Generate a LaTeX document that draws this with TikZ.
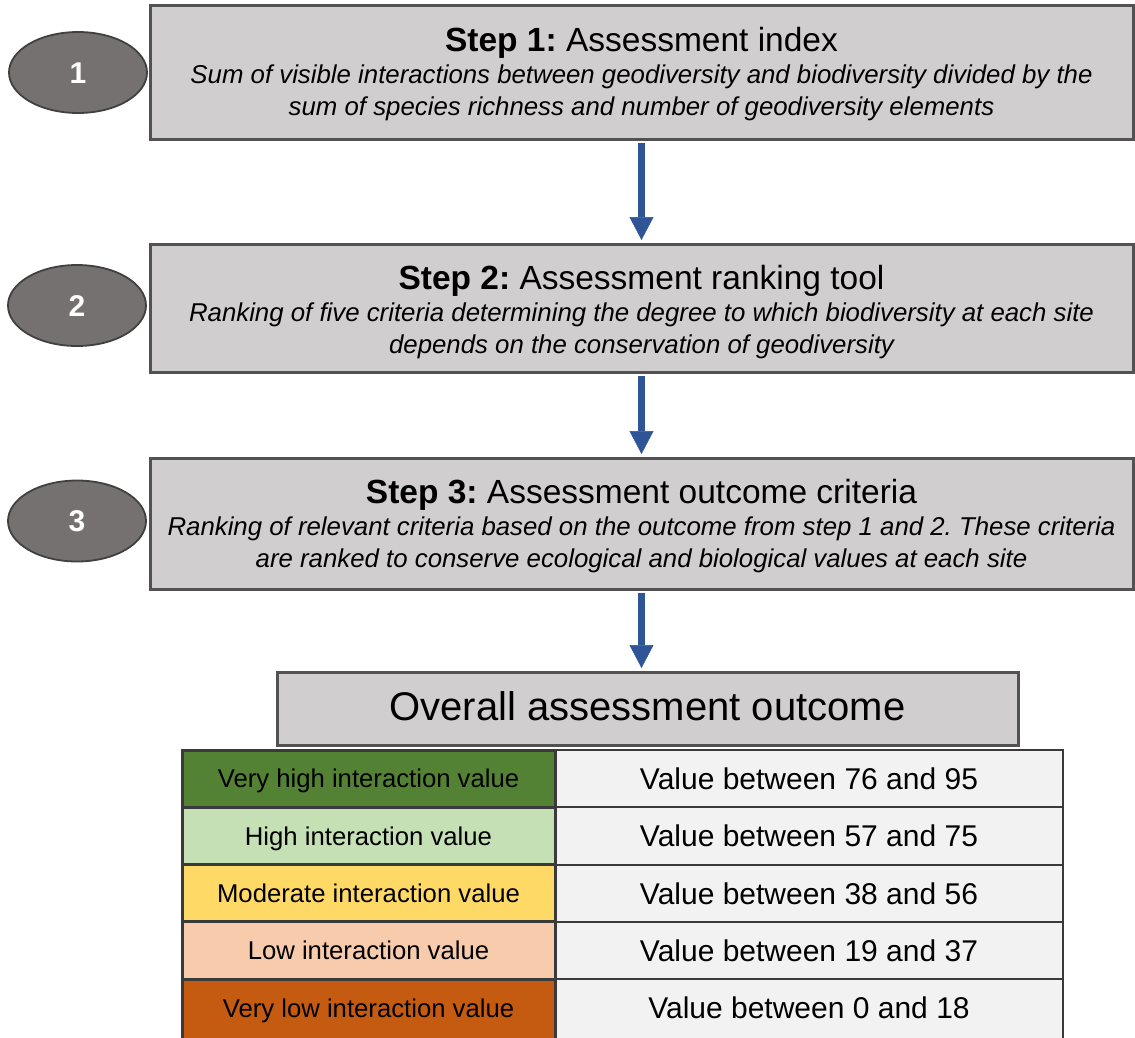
\documentclass[tikz,border=0pt]{standalone}
\usepackage{fontspec}
\setmainfont{Liberation Sans}
\usetikzlibrary{arrows.meta,shapes.geometric,calc}
\frenchspacing
\definecolor{boxgray}{HTML}{D0CECE}
\definecolor{boxline}{HTML}{525252}
\definecolor{ovfill}{HTML}{767171}
\definecolor{ovline}{HTML}{404040}
\definecolor{arrowblue}{HTML}{2F5597}
\definecolor{tabline}{HTML}{3A3A3A}
\definecolor{cellgray}{HTML}{F2F2F2}
\definecolor{cdgreen}{HTML}{548235}
\definecolor{clgreen}{HTML}{C5E0B4}
\definecolor{cyellow}{HTML}{FFD966}
\definecolor{cpeach}{HTML}{F8CBAD}
\definecolor{corange}{HTML}{C55A11}
\tikzset{
  stepbox/.style={rectangle, draw=boxline, line width=3pt, fill=boxgray, minimum width=983pt, inner sep=0pt},
  numoval/.style={ellipse, draw=ovline, line width=1.8pt, fill=ovfill, minimum width=138pt, minimum height=81pt, inner sep=0pt, text=white, font=\fontsize{30}{32}\selectfont\bfseries, text height=21.5pt, text depth=0pt},
  steptitle/.style={anchor=base, inner sep=0pt, font=\fontsize{33.5}{36}\selectfont},
  stepline/.style={anchor=base, inner sep=0pt, font=\fontsize{25.8}{30}\selectfont\itshape},
  flowarrow/.style={draw=arrowblue, line width=7.5pt, -{Triangle[width=24pt,length=23pt,line width=0.5pt]}, shorten >=2.5pt, shorten <=2pt},
  overallbox/.style={rectangle, draw=boxline, line width=3pt, fill=boxgray, minimum width=741pt, minimum height=73pt, inner sep=0pt, font=\fontsize{40}{44}\selectfont, text height=24pt, text depth=0pt},
  lcell/.style={rectangle, draw=tabline, line width=3pt, minimum width=373pt, minimum height=57.3pt, inner sep=0pt, font=\fontsize{25.7}{28}\selectfont, text height=18.4pt, text depth=0pt},
  rcell/.style={rectangle, draw=tabline, line width=2pt, fill=cellgray, minimum width=508pt, minimum height=57.3pt, inner sep=0pt, font=\fontsize{30}{32}\selectfont, text height=21.5pt, text depth=0pt},
  lastrow/.style={minimum height=62pt, text depth=4.4pt}
}
\begin{document}
\begin{tikzpicture}[x=1pt,y=-1pt]
\useasboundingbox (0,0) rectangle (1135,1037);

% step boxes
\node[stepbox, minimum height=134pt] (s1) at (641.5,72) {};
\node[stepbox, minimum height=128pt] (s2) at (641.5,308) {};
\node[stepbox, minimum height=131pt] (s3) at (641.5,523.5) {};

% numbers
\node[numoval] (n1) at (78,72.5) {1};
\node[numoval] (n2) at (77,305.5) {2};
\node[numoval] (n3) at (77,521) {3};

% texts
\node[steptitle] (t1) at (641.5,51) {\textbf{Step 1:} Assessment index};
\node[stepline] (t1a) at (641.5,83) {Sum of visible interactions between geodiversity and biodiversity divided by the};
\node[stepline] (t1b) at (641.5,115) {sum of species richness and number of geodiversity elements};

\node[steptitle] (t2) at (641.5,289) {\textbf{Step 2:} Assessment ranking tool};
\node[stepline] (t2a) at (641.5,321) {Ranking of five criteria determining the degree to which biodiversity at each site};
\node[stepline] (t2b) at (641.5,353) {depends on the conservation of geodiversity};

\node[steptitle] (t3) at (641.5,503) {\textbf{Step 3:} Assessment outcome criteria};
\node[stepline] (t3a) at (641.5,535) {Ranking of relevant criteria based on the outcome from step 1 and 2. These criteria};
\node[stepline] (t3b) at (641.5,567) {are ranked to conserve ecological and biological values at each site};

% overall
\node[overallbox] (ov) at (647.5,708.5) {Overall assessment outcome};

% arrows
\draw[flowarrow] (s1.south) -- (s2.north);
\draw[flowarrow] (s2.south) -- (s3.north);
\draw[flowarrow] (s3.south) -- (s3.south |- ov.north);

% table right cells
\node[rcell] (r1) at (809,778.65) {Value between 76 and 95};
\node[rcell] (r2) at (809,835.95) {Value between 57 and 75};
\node[rcell] (r3) at (809,893.25) {Value between 38 and 56};
\node[rcell] (r4) at (809,950.55) {Value between 19 and 37};
\node[rcell, lastrow] (r5) at (809,1010.2) {Value between 0 and 18};
% table left cells
\node[lcell, fill=cdgreen] (l1) at (368.5,778.65) {Very high interaction value};
\node[lcell, fill=clgreen] (l2) at (368.5,835.95) {High interaction value};
\node[lcell, fill=cyellow] (l3) at (368.5,893.25) {Moderate interaction value};
\node[lcell, fill=cpeach] (l4) at (368.5,950.55) {Low interaction value};
\node[lcell, fill=corange, lastrow] (l5) at (368.5,1010.2) {Very low interaction value};
\end{tikzpicture}
\end{document}
